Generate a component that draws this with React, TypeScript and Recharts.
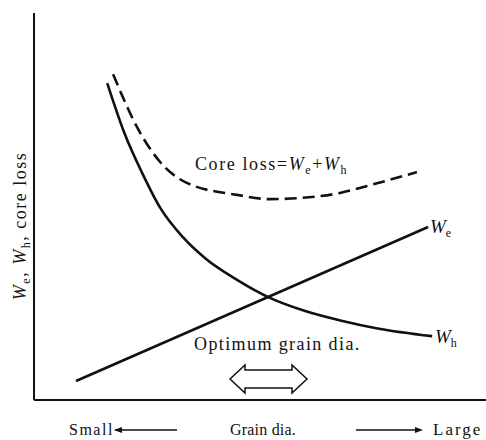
import { LineChart, Line, XAxis, YAxis, Customized } from 'recharts';

// grain diameter (0-100, small -> large) vs loss (arbitrary units 0-100)
const eddyLoss = [
  { x: 9.3, y: 4.9 },
  { x: 87.2, y: 44.7 },
];

const hysteresisLoss = [
  { x: 16.2, y: 81.9 },
  { x: 20, y: 69 },
  { x: 24, y: 58.5 },
  { x: 28, y: 49.5 },
  { x: 33, y: 42 },
  { x: 38, y: 36.5 },
  { x: 45, y: 31 },
  { x: 52.2, y: 26.4 },
  { x: 60, y: 23 },
  { x: 68, y: 20.5 },
  { x: 76, y: 18.5 },
  { x: 88.1, y: 16.5 },
];

const coreLoss = [
  { x: 17.5, y: 84.2 },
  { x: 22.8, y: 70.5 },
  { x: 27.9, y: 61.5 },
  { x: 33.8, y: 56.1 },
  { x: 44.9, y: 53.0 },
  { x: 52.2, y: 51.9 },
  { x: 58.8, y: 52.2 },
  { x: 67.7, y: 53.5 },
  { x: 73.7, y: 55.3 },
  { x: 84.7, y: 58.9 },
];

const FONT = '"Liberation Serif", "DejaVu Serif", serif';
const SUB = 12;

const Annotations = () => (
  <g fontFamily={FONT} fill="#111">
    <text x={195} y={170} fontSize={18} letterSpacing={1.6}>
      <tspan>Core loss=</tspan>
      <tspan fontStyle="italic">W</tspan>
      <tspan dy={4} fontSize={SUB}>e</tspan>
      <tspan dy={-4}>+</tspan>
      <tspan fontStyle="italic">W</tspan>
      <tspan dy={4} fontSize={SUB}>h</tspan>
    </text>
    <text x={430} y={233} fontSize={19}>
      <tspan fontStyle="italic">W</tspan>
      <tspan dy={4} fontSize={SUB}>e</tspan>
    </text>
    <text x={435} y={343} fontSize={19}>
      <tspan fontStyle="italic">W</tspan>
      <tspan dy={4} fontSize={SUB}>h</tspan>
    </text>
    <text x={194} y={350} fontSize={18} letterSpacing={1.4}>
      Optimum grain dia.
    </text>
    <path
      d="M230,379 L245,365 L245,370 L292,370 L292,365 L307,379 L292,393 L292,388 L245,388 L245,393 Z"
      fill="none"
      stroke="#111"
      strokeWidth={1.5}
    />
    <text
      transform="translate(26,226) rotate(-90)"
      textAnchor="middle"
      fontSize={18}
      letterSpacing={1.5}
    >
      <tspan fontStyle="italic">W</tspan>
      <tspan dy={4} fontSize={SUB}>e</tspan>
      <tspan dy={-4}>, </tspan>
      <tspan fontStyle="italic">W</tspan>
      <tspan dy={4} fontSize={SUB}>h</tspan>
      <tspan dy={-4}>, core loss</tspan>
    </text>
    <text x={69} y={435} fontSize={16} letterSpacing={1.5}>Small</text>
    <path d="M115,430 L177,430" stroke="#111" strokeWidth={1.5} />
    <path d="M114,430 L122,427 L122,433 Z" fill="#111" />
    <text x={230} y={435} fontSize={16} letterSpacing={0.2}>Grain dia.</text>
    <path d="M356,430 L420,430" stroke="#111" strokeWidth={1.5} />
    <path d="M423,430 L415,427 L415,433 Z" fill="#111" />
    <text x={433} y={435} fontSize={17} letterSpacing={2}>Large</text>
  </g>
);

export default function App() {
  return (
    <div style={{ position: 'absolute', left: 0, top: 0, background: '#fff' }}>
      <LineChart width={486} height={440} margin={{ top: 13, right: 0, bottom: 39, left: 33 }}>
        <XAxis
          type="number"
          dataKey="x"
          domain={[0, 100]}
          height={1}
          tick={false}
          tickLine={false}
          axisLine={{ stroke: '#111', strokeWidth: 2 }}
        />
        <YAxis
          type="number"
          dataKey="y"
          domain={[0, 100]}
          width={1}
          tick={false}
          tickLine={false}
          axisLine={{ stroke: '#111', strokeWidth: 2 }}
        />
        <Line
          data={eddyLoss}
          dataKey="y"
          type="linear"
          stroke="#111"
          strokeWidth={2.6}
          dot={false}
          isAnimationActive={false}
        />
        <Line
          data={hysteresisLoss}
          dataKey="y"
          type="monotone"
          stroke="#111"
          strokeWidth={2.6}
          dot={false}
          isAnimationActive={false}
        />
        <Line
          data={coreLoss}
          dataKey="y"
          type="monotone"
          stroke="#111"
          strokeWidth={2.6}
          strokeDasharray="12 6"
          dot={false}
          isAnimationActive={false}
        />
        <Customized component={Annotations} />
      </LineChart>
    </div>
  );
}
